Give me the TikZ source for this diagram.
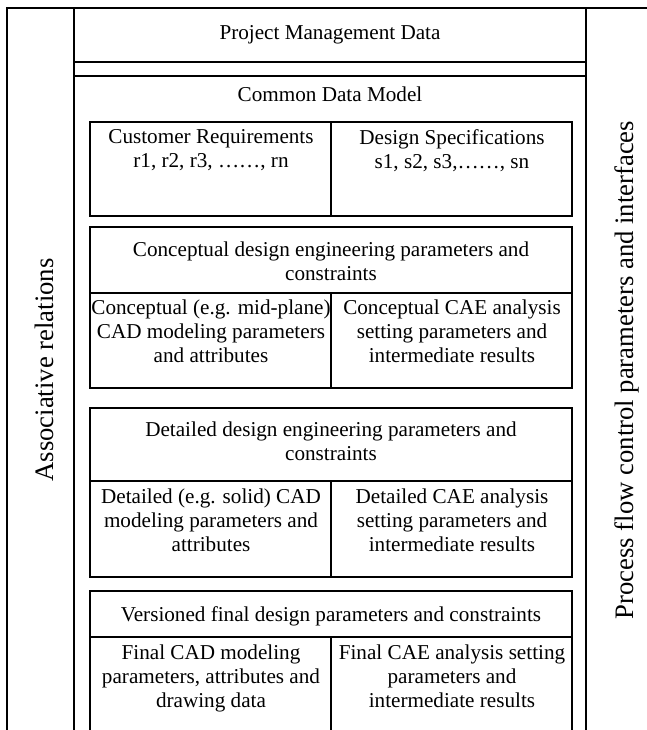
\documentclass[tikz,border=0pt]{standalone}
\usepackage{fontspec}
\setmainfont{Liberation Serif}
\usepackage{tikz}
\usetikzlibrary{calc}

\begin{document}
\begin{tikzpicture}[x = 0.6pt, y = -0.6pt, line width = 1.1pt,
    cell/.style = {anchor = north, align = center, inner sep = 0pt,
        font = \fontsize{12.7}{14.4}\selectfont},
    side/.style = {rotate = 90, anchor = base, inner sep = 0pt,
        font = \fontsize{16}{18}\selectfont}]
            \useasboundingbox(0,0)rectangle(647,730);
            % frame
            \coordinate(tl)at(7,8);
            \coordinate(il)at(74,8);
            \coordinate(ir)at(586,8);
            \path[draw](7,730)--(tl)--(647,8);
            \path[draw](il)--(74,730);
            \path[draw](ir)--(586,730);
            % project management band
            \path[draw](74,62)--(586,62);
            \path[draw](74,76)--(586,76);
            \node[cell, anchor = center](pmd)at(330,35){Project Management Data};
            \node[cell](cdm)at(330,86){Common Data Model};
            % requirements / specifications
            \path[draw](90,122)rectangle(572,216);
            \path[draw](331,122)--(331,216);
            \node[cell](req)at(211,129){Customer Requirements\\ r1, r2, r3, ……, rn};
            \node[cell](spec)at(452,129){Design Specifications\\ s1, s2, s3,……, sn};
            % conceptual design
            \path[draw](90,227)rectangle(572,388);
            \path[draw](90,293)--(572,293);
            \path[draw](331,293)--(331,388);
            \node[cell](concHead)at(331,241){Conceptual design engineering parameters and\\ constraints};
            \node[cell](concCad)at(211,299){Conceptual (e.g. mid-plane)\\ CAD modeling parameters\\ and attributes};
            \node[cell](concCae)at(452,299){Conceptual CAE analysis\\ setting parameters and\\ intermediate results};
            % detailed design
            \path[draw](90,408)rectangle(572,577);
            \path[draw](90,481)--(572,481);
            \path[draw](331,481)--(331,577);
            \node[cell](detHead)at(331,421){Detailed design engineering parameters and\\ constraints};
            \node[cell](detCad)at(211,488){Detailed (e.g. solid) CAD\\ modeling parameters and\\ attributes};
            \node[cell](detCae)at(452,488){Detailed CAE analysis\\ setting parameters and\\ intermediate results};
            % final design, open at the bottom
            \path[draw](90,730)--(90,591)--(572,591)--(572,730);
            \path[draw](90,637)--(572,637);
            \path[draw](331,637)--(331,730);
            \node[cell](finHead)at(331,606){Versioned final design parameters and constraints};
            \node[cell](finCad)at(211,644){Final CAD modeling\\ parameters, attributes and\\ drawing data};
            \node[cell](finCae)at(452,644){Final CAE analysis setting\\ parameters and\\ intermediate results};
            % side labels
            \node[side](assoc)at(53,370){Associative relations};
            \node[side](flow)at(633,370){Process flow control parameters and interfaces};
        \end{tikzpicture}
\end{document}
